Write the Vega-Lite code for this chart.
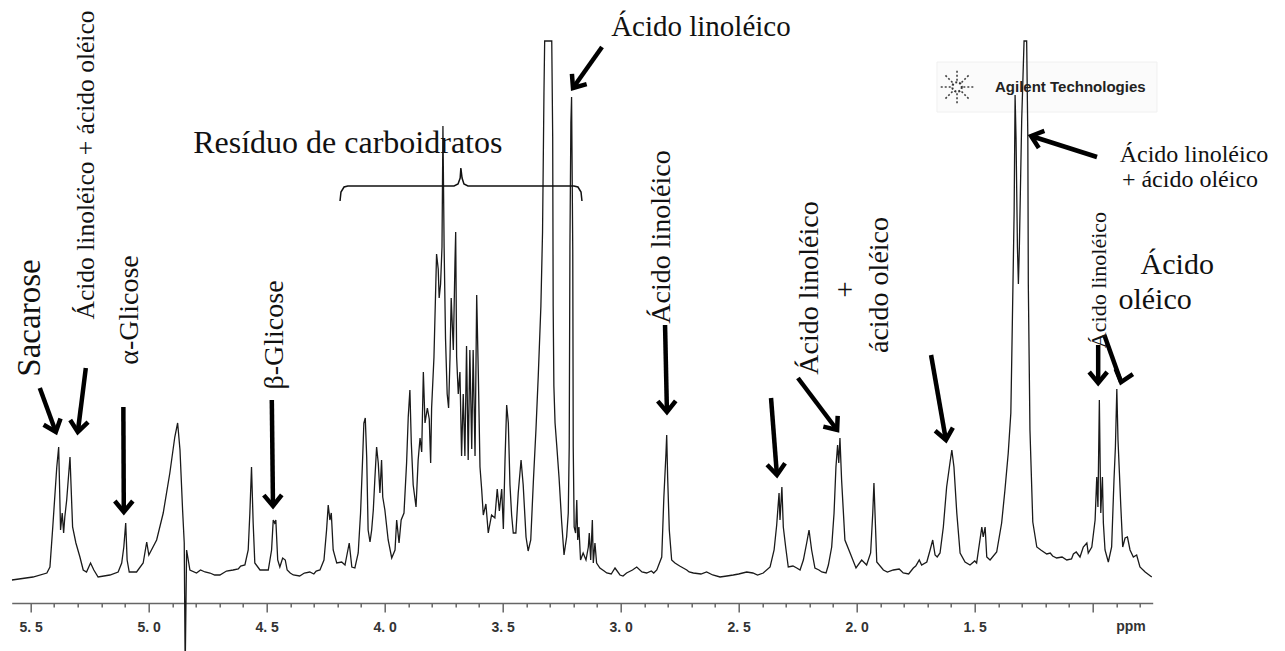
{
  "$schema": "https://vega.github.io/schema/vega-lite/v6.json",
  "autosize": {"type": "none"},
  "width": 1141,
  "height": 613,
  "padding": {"left": 11.7, "top": 38, "right": 132.3, "bottom": 0},
  "background": "white",
  "config": {"view": {"stroke": null}},
  "datasets": {
    "spec": [
      {"x":5.579,"y":23},{"x":5.490,"y":26},{"x":5.431,"y":30},{"x":5.418,"y":36},{"x":5.406,"y":76},{"x":5.389,"y":136},{"x":5.381,"y":156},{"x":5.373,"y":73},{"x":5.366,"y":90},{"x":5.360,"y":70},{"x":5.355,"y":86},{"x":5.347,"y":103},{"x":5.333,"y":146},{"x":5.322,"y":76},{"x":5.308,"y":60},{"x":5.291,"y":46},{"x":5.277,"y":33},{"x":5.263,"y":31},{"x":5.246,"y":40},{"x":5.232,"y":33},{"x":5.214,"y":26},{"x":5.164,"y":28},{"x":5.129,"y":31},{"x":5.114,"y":40},{"x":5.105,"y":56},{"x":5.097,"y":80},{"x":5.091,"y":43},{"x":5.082,"y":31},{"x":5.051,"y":31},{"x":5.023,"y":40},{"x":5.008,"y":61},{"x":4.999,"y":48},{"x":4.966,"y":63},{"x":4.938,"y":90},{"x":4.910,"y":130},{"x":4.889,"y":166},{"x":4.877,"y":180},{"x":4.867,"y":153},{"x":4.856,"y":93},{"x":4.849,"y":60},{"x":4.845,"y":-67},{"x":4.839,"y":53},{"x":4.825,"y":33},{"x":4.797,"y":30},{"x":4.78,"y":33},{"x":4.761,"y":31},{"x":4.740,"y":30},{"x":4.72,"y":28},{"x":4.698,"y":28},{"x":4.67,"y":32},{"x":4.642,"y":33},{"x":4.62,"y":34},{"x":4.61,"y":37},{"x":4.592,"y":38},{"x":4.578,"y":53},{"x":4.571,"y":90},{"x":4.564,"y":136},{"x":4.557,"y":80},{"x":4.550,"y":40},{"x":4.528,"y":33},{"x":4.493,"y":33},{"x":4.479,"y":53},{"x":4.472,"y":83},{"x":4.466,"y":80},{"x":4.461,"y":83},{"x":4.453,"y":43},{"x":4.444,"y":36},{"x":4.432,"y":45},{"x":4.421,"y":43},{"x":4.413,"y":33},{"x":4.40,"y":30},{"x":4.387,"y":28},{"x":4.36,"y":27},{"x":4.34,"y":30},{"x":4.317,"y":31},{"x":4.30,"y":29},{"x":4.29,"y":32},{"x":4.274,"y":33},{"x":4.257,"y":43},{"x":4.246,"y":73},{"x":4.239,"y":98},{"x":4.232,"y":83},{"x":4.226,"y":90},{"x":4.218,"y":53},{"x":4.203,"y":40},{"x":4.182,"y":41},{"x":4.168,"y":38},{"x":4.150,"y":60},{"x":4.139,"y":36},{"x":4.126,"y":35},{"x":4.112,"y":50},{"x":4.102,"y":90},{"x":4.093,"y":146},{"x":4.088,"y":180},{"x":4.082,"y":185},{"x":4.076,"y":146},{"x":4.070,"y":73},{"x":4.062,"y":61},{"x":4.055,"y":73},{"x":4.048,"y":93},{"x":4.041,"y":126},{"x":4.034,"y":156},{"x":4.027,"y":140},{"x":4.020,"y":110},{"x":4.013,"y":143},{"x":4.008,"y":106},{"x":3.999,"y":93},{"x":3.985,"y":63},{"x":3.970,"y":45},{"x":3.956,"y":53},{"x":3.949,"y":83},{"x":3.939,"y":60},{"x":3.930,"y":83},{"x":3.918,"y":90},{"x":3.907,"y":140},{"x":3.900,"y":186},{"x":3.893,"y":213},{"x":3.887,"y":160},{"x":3.879,"y":118},{"x":3.867,"y":96},{"x":3.858,"y":143},{"x":3.850,"y":165},{"x":3.843,"y":151},{"x":3.836,"y":231},{"x":3.829,"y":180},{"x":3.819,"y":195},{"x":3.811,"y":184},{"x":3.805,"y":140},{"x":3.801,"y":195},{"x":3.791,"y":246},{"x":3.780,"y":349},{"x":3.773,"y":334},{"x":3.769,"y":305},{"x":3.763,"y":319},{"x":3.757,"y":356},{"x":3.753,"y":477},{"x":3.748,"y":356},{"x":3.742,"y":264},{"x":3.735,"y":209},{"x":3.729,"y":195},{"x":3.723,"y":246},{"x":3.718,"y":305},{"x":3.709,"y":253},{"x":3.702,"y":341},{"x":3.699,"y":371},{"x":3.695,"y":246},{"x":3.688,"y":209},{"x":3.681,"y":231},{"x":3.674,"y":147},{"x":3.667,"y":209},{"x":3.660,"y":147},{"x":3.653,"y":257},{"x":3.646,"y":143},{"x":3.639,"y":253},{"x":3.631,"y":154},{"x":3.625,"y":253},{"x":3.617,"y":147},{"x":3.610,"y":308},{"x":3.603,"y":228},{"x":3.596,"y":136},{"x":3.589,"y":114},{"x":3.582,"y":88},{"x":3.571,"y":99},{"x":3.561,"y":70},{"x":3.547,"y":88},{"x":3.533,"y":85},{"x":3.523,"y":114},{"x":3.514,"y":92},{"x":3.504,"y":114},{"x":3.497,"y":74},{"x":3.490,"y":143},{"x":3.483,"y":198},{"x":3.476,"y":180},{"x":3.469,"y":118},{"x":3.462,"y":88},{"x":3.455,"y":70},{"x":3.444,"y":70},{"x":3.434,"y":110},{"x":3.422,"y":143},{"x":3.413,"y":118},{"x":3.401,"y":66},{"x":3.392,"y":52},{"x":3.381,"y":63},{"x":3.370,"y":121},{"x":3.359,"y":173},{"x":3.349,"y":228},{"x":3.338,"y":297},{"x":3.331,"y":371},{"x":3.325,"y":510},{"x":3.322,"y":562},{"x":3.292,"y":562},{"x":3.288,"y":466},{"x":3.286,"y":297},{"x":3.283,"y":217},{"x":3.278,"y":180},{"x":3.271,"y":158},{"x":3.261,"y":125},{"x":3.250,"y":81},{"x":3.240,"y":48},{"x":3.229,"y":66},{"x":3.222,"y":90},{"x":3.218,"y":156},{"x":3.215,"y":356},{"x":3.211,"y":480},{"x":3.208,"y":506},{"x":3.203,"y":353},{"x":3.201,"y":156},{"x":3.197,"y":76},{"x":3.191,"y":70},{"x":3.186,"y":103},{"x":3.182,"y":63},{"x":3.177,"y":76},{"x":3.170,"y":43},{"x":3.159,"y":50},{"x":3.147,"y":43},{"x":3.137,"y":56},{"x":3.133,"y":70},{"x":3.127,"y":43},{"x":3.120,"y":83},{"x":3.116,"y":40},{"x":3.109,"y":60},{"x":3.102,"y":40},{"x":3.088,"y":35},{"x":3.07,"y":32},{"x":3.059,"y":30},{"x":3.04,"y":29},{"x":3.024,"y":35},{"x":3.003,"y":28},{"x":2.99,"y":27},{"x":2.975,"y":30},{"x":2.95,"y":33},{"x":2.932,"y":36},{"x":2.91,"y":31},{"x":2.890,"y":30},{"x":2.87,"y":32},{"x":2.86,"y":30},{"x":2.847,"y":33},{"x":2.826,"y":46},{"x":2.817,"y":106},{"x":2.808,"y":150},{"x":2.805,"y":168},{"x":2.801,"y":126},{"x":2.794,"y":73},{"x":2.784,"y":43},{"x":2.770,"y":40},{"x":2.75,"y":37},{"x":2.735,"y":35},{"x":2.72,"y":33},{"x":2.71,"y":31},{"x":2.692,"y":30},{"x":2.66,"y":29},{"x":2.636,"y":31},{"x":2.61,"y":28},{"x":2.579,"y":26},{"x":2.55,"y":27},{"x":2.523,"y":28},{"x":2.50,"y":29},{"x":2.466,"y":31},{"x":2.44,"y":30},{"x":2.42,"y":28},{"x":2.396,"y":30},{"x":2.367,"y":36},{"x":2.350,"y":53},{"x":2.339,"y":78},{"x":2.329,"y":110},{"x":2.325,"y":83},{"x":2.317,"y":116},{"x":2.311,"y":76},{"x":2.301,"y":56},{"x":2.290,"y":36},{"x":2.27,"y":37},{"x":2.254,"y":35},{"x":2.24,"y":33},{"x":2.226,"y":43},{"x":2.212,"y":60},{"x":2.202,"y":73},{"x":2.191,"y":53},{"x":2.177,"y":35},{"x":2.16,"y":33},{"x":2.148,"y":31},{"x":2.13,"y":30},{"x":2.120,"y":38},{"x":2.106,"y":56},{"x":2.096,"y":90},{"x":2.088,"y":136},{"x":2.081,"y":158},{"x":2.076,"y":140},{"x":2.071,"y":165},{"x":2.064,"y":123},{"x":2.050,"y":63},{"x":2.028,"y":50},{"x":2.003,"y":35},{"x":1.979,"y":43},{"x":1.958,"y":38},{"x":1.941,"y":50},{"x":1.932,"y":90},{"x":1.927,"y":120},{"x":1.921,"y":80},{"x":1.915,"y":41},{"x":1.887,"y":33},{"x":1.87,"y":31},{"x":1.845,"y":33},{"x":1.82,"y":34},{"x":1.803,"y":30},{"x":1.78,"y":29},{"x":1.760,"y":35},{"x":1.75,"y":37},{"x":1.735,"y":43},{"x":1.725,"y":38},{"x":1.703,"y":41},{"x":1.689,"y":53},{"x":1.678,"y":63},{"x":1.668,"y":48},{"x":1.659,"y":46},{"x":1.647,"y":50},{"x":1.633,"y":76},{"x":1.619,"y":116},{"x":1.605,"y":140},{"x":1.597,"y":153},{"x":1.588,"y":136},{"x":1.576,"y":90},{"x":1.562,"y":50},{"x":1.541,"y":41},{"x":1.52,"y":38},{"x":1.50,"y":42},{"x":1.492,"y":40},{"x":1.470,"y":76},{"x":1.464,"y":66},{"x":1.456,"y":76},{"x":1.449,"y":46},{"x":1.435,"y":43},{"x":1.407,"y":51},{"x":1.386,"y":80},{"x":1.372,"y":113},{"x":1.358,"y":150},{"x":1.347,"y":190},{"x":1.343,"y":246},{"x":1.333,"y":392},{"x":1.329,"y":508},{"x":1.325,"y":465},{"x":1.319,"y":355},{"x":1.315,"y":319},{"x":1.311,"y":355},{"x":1.301,"y":483},{"x":1.291,"y":562},{"x":1.280,"y":562},{"x":1.275,"y":465},{"x":1.273,"y":319},{"x":1.266,"y":173},{"x":1.254,"y":81},{"x":1.237,"y":56},{"x":1.22,"y":53},{"x":1.195,"y":49},{"x":1.18,"y":50},{"x":1.17,"y":47},{"x":1.153,"y":45},{"x":1.13,"y":46},{"x":1.110,"y":43},{"x":1.09,"y":44},{"x":1.082,"y":49},{"x":1.07,"y":51},{"x":1.054,"y":46},{"x":1.040,"y":56},{"x":1.025,"y":60},{"x":1.019,"y":50},{"x":1.004,"y":56},{"x":0.990,"y":83},{"x":0.983,"y":126},{"x":0.978,"y":96},{"x":0.972,"y":203},{"x":0.966,"y":90},{"x":0.959,"y":126},{"x":0.955,"y":80},{"x":0.948,"y":53},{"x":0.934,"y":41},{"x":0.920,"y":56},{"x":0.910,"y":123},{"x":0.904,"y":156},{"x":0.898,"y":214},{"x":0.893,"y":163},{"x":0.887,"y":130},{"x":0.881,"y":96},{"x":0.873,"y":56},{"x":0.863,"y":65},{"x":0.853,"y":66},{"x":0.842,"y":53},{"x":0.828,"y":46},{"x":0.814,"y":48},{"x":0.800,"y":36},{"x":0.778,"y":31},{"x":0.750,"y":26}
    ],
    "brace": [
      {"x":4.189,"y":402},{"x":4.185,"y":411},{"x":4.172,"y":416},{"x":4.156,"y":417},{"x":3.706,"y":417},{"x":3.689,"y":419},{"x":3.680,"y":425},{"x":3.677,"y":435},{"x":3.672,"y":425},{"x":3.664,"y":419},{"x":3.647,"y":417},{"x":3.198,"y":417},{"x":3.181,"y":416},{"x":3.168,"y":411},{"x":3.164,"y":402}
    ],
    "arrows": [
      {"x":5.393,"y":171,"x2":5.461,"y2":215,"a":-20},
      {"x":5.300,"y":171,"x2":5.266,"y2":235,"a":7},
      {"x":5.105,"y":91,"x2":5.107,"y2":196,"a":0},
      {"x":4.473,"y":97,"x2":4.478,"y2":203,"a":-1},
      {"x":3.202,"y":515,"x2":3.079,"y2":556,"a":35},
      {"x":2.804,"y":191,"x2":2.812,"y2":278,"a":-1},
      {"x":2.338,"y":128,"x2":2.363,"y2":205,"a":-4.5},
      {"x":2.083,"y":173,"x2":2.249,"y2":225,"a":-37},
      {"x":1.622,"y":163,"x2":1.685,"y2":248,"a":-10},
      {"x":1.261,"y":467,"x2":0.982,"y2":446,"a":108},
      {"x":0.977,"y":220,"x2":0.977,"y2":258,"a":0},
      {"x":0.880,"y":221,"x2":0.951,"y2":268,"a":17}
    ],
    "rot28": [
      {"x":5.079,"y":293,"t":"α-Glicose"},
      {"x":4.465,"y":268,"t":"β-Glicose"},
      {"x":2.825,"y":366,"t":"Ácido linoléico"},
      {"x":2.198,"y":315,"t":"Ácido linoléico"},
      {"x":1.901,"y":318,"t":"ácido oléico"}
    ],
    "rotSmall": [
      {"x":0.973,"y":323,"t":"Ácido linoléico"}
    ],
    "rotBig": [{"x":5.503,"y":285,"t":"Sacarose"}],
    "rotLong": [{"x":5.266,"y":438,"t":"Ácido linoléico  +  ácido oléico"}],
    "resid": [{"x":4.156,"y":460,"t":"Resíduo de carboidratos"}],
    "hor29": [
      {"x":2.660,"y":576,"t":"Ácido  linoléico"},
      {"x":2.050,"y":313,"t":"+"}
    ],
    "ao": [
      {"x":0.642,"y":338,"t":"Ácido"},
      {"x":0.736,"y":303,"t":"oléico"}
    ],
    "horSmall": [
      {"x":0.571,"y":448,"t":"Ácido linoléico"},
      {"x":0.588,"y":423,"t":"+ ácido oléico"}
    ],
    "logoBox": [{"x":1.660,"x2":0.728,"y":541,"y2":491}],
    "logoStar": [{"x":1.575,"y":516}],
    "logoText": [{"x":1.414,"y":516,"t":"Agilent Technologies"}],
    "unit": [{"x":0.838,"y":-24,"t":"ppm"}]
  },
  "encoding": {
    "x": {"field": "x", "type": "quantitative", "scale": {"domain": [0.746, 5.58], "reverse": true, "nice": false, "zero": false}, "axis": null},
    "y": {"field": "y", "type": "quantitative", "scale": {"domain": [-48, 565], "nice": false, "zero": false}, "axis": null}
  },
  "layer": [
    {
      "data": {"name": "logoBox"},
      "mark": {"type": "rect", "fill": "#fbfbfb", "stroke": "#f0f0f0", "strokeWidth": 1},
      "encoding": {"x2": {"field": "x2"}, "y2": {"field": "y2"}}
    },
    {
      "data": {"name": "spec"},
      "mark": {"type": "line", "clip": true, "color": "#1a1a1a", "strokeWidth": 1.3},
      "encoding": {
        "x": {"field": "x", "type": "quantitative", "scale": {"domain": [0.746, 5.58], "reverse": true, "nice": false, "zero": false},
          "axis": {"orient": "bottom", "offset": -48, "values": [5.5, 5, 4.5, 4, 3.5, 3, 2.5, 2, 1.5, 1],
            "labelExpr": "datum.value < 1.25 ? '' : replace(format(datum.value, '.1f'), '.', '. ')",
            "title": null, "grid": false, "domainColor": "#666666", "domainWidth": 1.5, "tickColor": "#666666", "tickWidth": 1.5, "tickSize": 9,
            "labelFont": "Liberation Sans", "labelFontWeight": "bold", "labelFontSize": 14, "labelColor": "#333333", "labelPadding": 8, "labelFlush": false, "labelOverlap": false}}
      }
    },
    {
      "data": {"name": "brace"},
      "mark": {"type": "line", "color": "#111111", "strokeWidth": 1.5},
      "encoding": {
        "x": {"field": "x", "type": "quantitative", "scale": {"domain": [0.746, 5.58], "reverse": true, "nice": false, "zero": false},
          "axis": {"orient": "bottom", "offset": -48, "values": [5.4,5.3,5.2,5.1,4.9,4.8,4.7,4.6,4.4,4.3,4.2,4.1,3.9,3.8,3.7,3.6,3.4,3.3,3.2,3.1,2.9,2.8,2.7,2.6,2.4,2.3,2.2,2.1,1.9,1.8,1.7,1.6,1.4,1.3,1.2,1.1,0.9,0.8],
            "labels": false, "domain": false, "title": null, "grid": false, "tickColor": "#666666", "tickWidth": 1.5, "tickSize": 4}}
      }
    },
    {
      "data": {"name": "arrows"},
      "mark": {"type": "rule", "color": "#000000", "strokeWidth": 4.5},
      "encoding": {"x2": {"field": "x2"}, "y2": {"field": "y2"}}
    },
    {
      "data": {"name": "arrows"},
      "mark": {"type": "point", "shape": "M-0.9,-1.1L0,0L0.9,-1.1", "filled": false, "stroke": "#000000", "strokeWidth": 4.5, "size": 400, "opacity": 1, "strokeJoin": "miter"},
      "encoding": {"angle": {"field": "a", "type": "quantitative", "scale": null}}
    },
    {
      "data": {"name": "rot28"},
      "mark": {"type": "text", "angle": 270, "font": "Liberation Serif", "fontSize": 28, "align": "center", "baseline": "middle", "color": "#111111"},
      "encoding": {"text": {"field": "t"}}
    },
    {
      "data": {"name": "rotSmall"},
      "mark": {"type": "text", "angle": 270, "font": "Liberation Serif", "fontSize": 22, "align": "center", "baseline": "middle", "color": "#111111"},
      "encoding": {"text": {"field": "t"}}
    },
    {
      "data": {"name": "rotBig"},
      "mark": {"type": "text", "angle": 270, "font": "Liberation Serif", "fontSize": 33, "align": "center", "baseline": "middle", "color": "#111111"},
      "encoding": {"text": {"field": "t"}}
    },
    {
      "data": {"name": "rotLong"},
      "mark": {"type": "text", "angle": 270, "font": "Liberation Serif", "fontSize": 25.5, "align": "center", "baseline": "middle", "color": "#111111"},
      "encoding": {"text": {"field": "t"}}
    },
    {
      "data": {"name": "resid"},
      "mark": {"type": "text", "font": "Liberation Serif", "fontSize": 32, "align": "center", "baseline": "middle", "color": "#111111"},
      "encoding": {"text": {"field": "t"}}
    },
    {
      "data": {"name": "hor29"},
      "mark": {"type": "text", "font": "Liberation Serif", "fontSize": 29, "align": "center", "baseline": "middle", "color": "#111111"},
      "encoding": {"text": {"field": "t"}}
    },
    {
      "data": {"name": "ao"},
      "mark": {"type": "text", "font": "Liberation Serif", "fontSize": 30, "align": "center", "baseline": "middle", "color": "#111111"},
      "encoding": {"text": {"field": "t"}}
    },
    {
      "data": {"name": "horSmall"},
      "mark": {"type": "text", "font": "Liberation Serif", "fontSize": 24, "align": "center", "baseline": "middle", "color": "#111111"},
      "encoding": {"text": {"field": "t"}}
    },
    {
      "data": {"name": "logoStar"},
      "mark": {"type": "point", "shape": "M0.35,0L1,0M-0.35,0L-1,0M0,0.35L0,1M0,-0.35L0,-1M0.25,0.25L0.7,0.7M-0.25,-0.25L-0.7,-0.7M0.25,-0.25L0.7,-0.7M-0.25,0.25L-0.7,0.7", "filled": false, "stroke": "#444444", "strokeWidth": 1.6, "strokeDash": [2, 2], "size": 1300, "opacity": 1}
    },
    {
      "data": {"name": "logoStar"},
      "mark": {"type": "point", "shape": "circle", "filled": false, "stroke": "#333333", "strokeWidth": 2, "strokeDash": [2, 2], "size": 90, "opacity": 1}
    },
    {
      "data": {"name": "logoText"},
      "mark": {"type": "text", "font": "Liberation Sans", "fontWeight": "bold", "fontSize": 15, "align": "left", "baseline": "middle", "color": "#222222"},
      "encoding": {"text": {"field": "t"}}
    },
    {
      "data": {"name": "unit"},
      "mark": {"type": "text", "font": "Liberation Sans", "fontWeight": "bold", "fontSize": 14, "align": "center", "baseline": "middle", "color": "#333333"},
      "encoding": {"text": {"field": "t"}}
    }
  ],
  "resolve": {"axis": {"x": "independent"}}
}
